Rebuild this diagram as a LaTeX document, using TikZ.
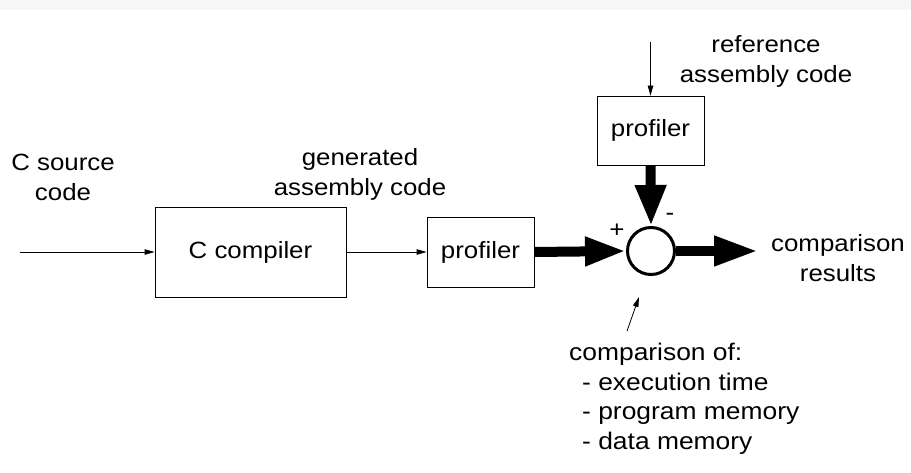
\documentclass[tikz,border=0pt]{standalone}
\usepackage{fontspec}
\setmainfont[FakeStretch=1.1]{Liberation Sans}
\usetikzlibrary{arrows.meta,calc}
\definecolor{band}{HTML}{F6F6F4}
\tikzset{
  blk/.style={draw=black, line width=0.8pt, inner sep=0pt},
  lbl/.style={align=center, inner sep=0pt, font=\fontsize{23.5}{30}\selectfont},
  thin/.style={line width=0.8pt, -{Triangle[length=10pt,width=5.5pt]}},
  fat/.style={line width=10pt, -{Triangle[length=41pt,width=27pt]}},
}
\begin{document}
\begin{tikzpicture}[x=1pt,y=-1pt]
\useasboundingbox (0,0) rectangle (911,473);
\fill[band] (0,0) rectangle (911,10);
% boxes
\node[blk, minimum width=191pt, minimum height=90pt, font=\fontsize{23.5}{30}\selectfont] (comp) at (250.5,252) {C compiler};
\node[blk, minimum width=107pt, minimum height=70pt, font=\fontsize{23.5}{30}\selectfont] (prof1) at (480.5,252) {profiler};
\node[blk, minimum width=107pt, minimum height=69pt, font=\fontsize{23.5}{30}\selectfont] (prof2) at (650.5,130.5) {profiler};
\node[circle, draw=black, line width=3pt, minimum size=47pt, inner sep=0pt] (cmp) at (651,251) {};
% labels
\node[lbl] (src) at (63,177) {C source\\code};
\node[lbl] (gen) at (360,174) {generated\\assembly code};
\node[lbl] (ref) at (766,61) {reference\\assembly code};
\node[lbl] (res) at (838,258) {comparison\\results};
\node[lbl, font=\fontsize{24}{29.5}\selectfont, align=left, anchor=north west] (cof) at (569,343) {comparison of:\\\hspace*{13pt}- execution time\\\hspace*{13pt}- program memory\\\hspace*{13pt}- data memory};
\node[inner sep=0pt, font=\fontsize{23.5}{30}\selectfont] (plus) at (617,231) {+};
\node[inner sep=0pt, font=\fontsize{23.5}{30}\selectfont] (minus) at (670,217) {-};
% coordinates
\coordinate (in) at (20,252);
\coordinate (reftop) at (650.5,42);
\coordinate (outend) at (758,251);
\coordinate (annot) at (627,331);
\coordinate (annottip) at (639,297);
% connectors
\draw[thin] (in) -- (comp.west);
\draw[thin] (comp.east) -- (prof1.west);
\draw[thin] (reftop) -- (prof2.north);
\draw[thin] (annot) -- (annottip);
\draw[fat] (prof1.east) -- (cmp.west);
\draw[fat, -{Triangle[length=41pt,width=29pt]}] (prof2.south) -- (cmp.north);
\draw[fat, -{Triangle[length=44pt,width=28pt]}] (cmp.east) -- (outend);
\end{tikzpicture}
\end{document}
